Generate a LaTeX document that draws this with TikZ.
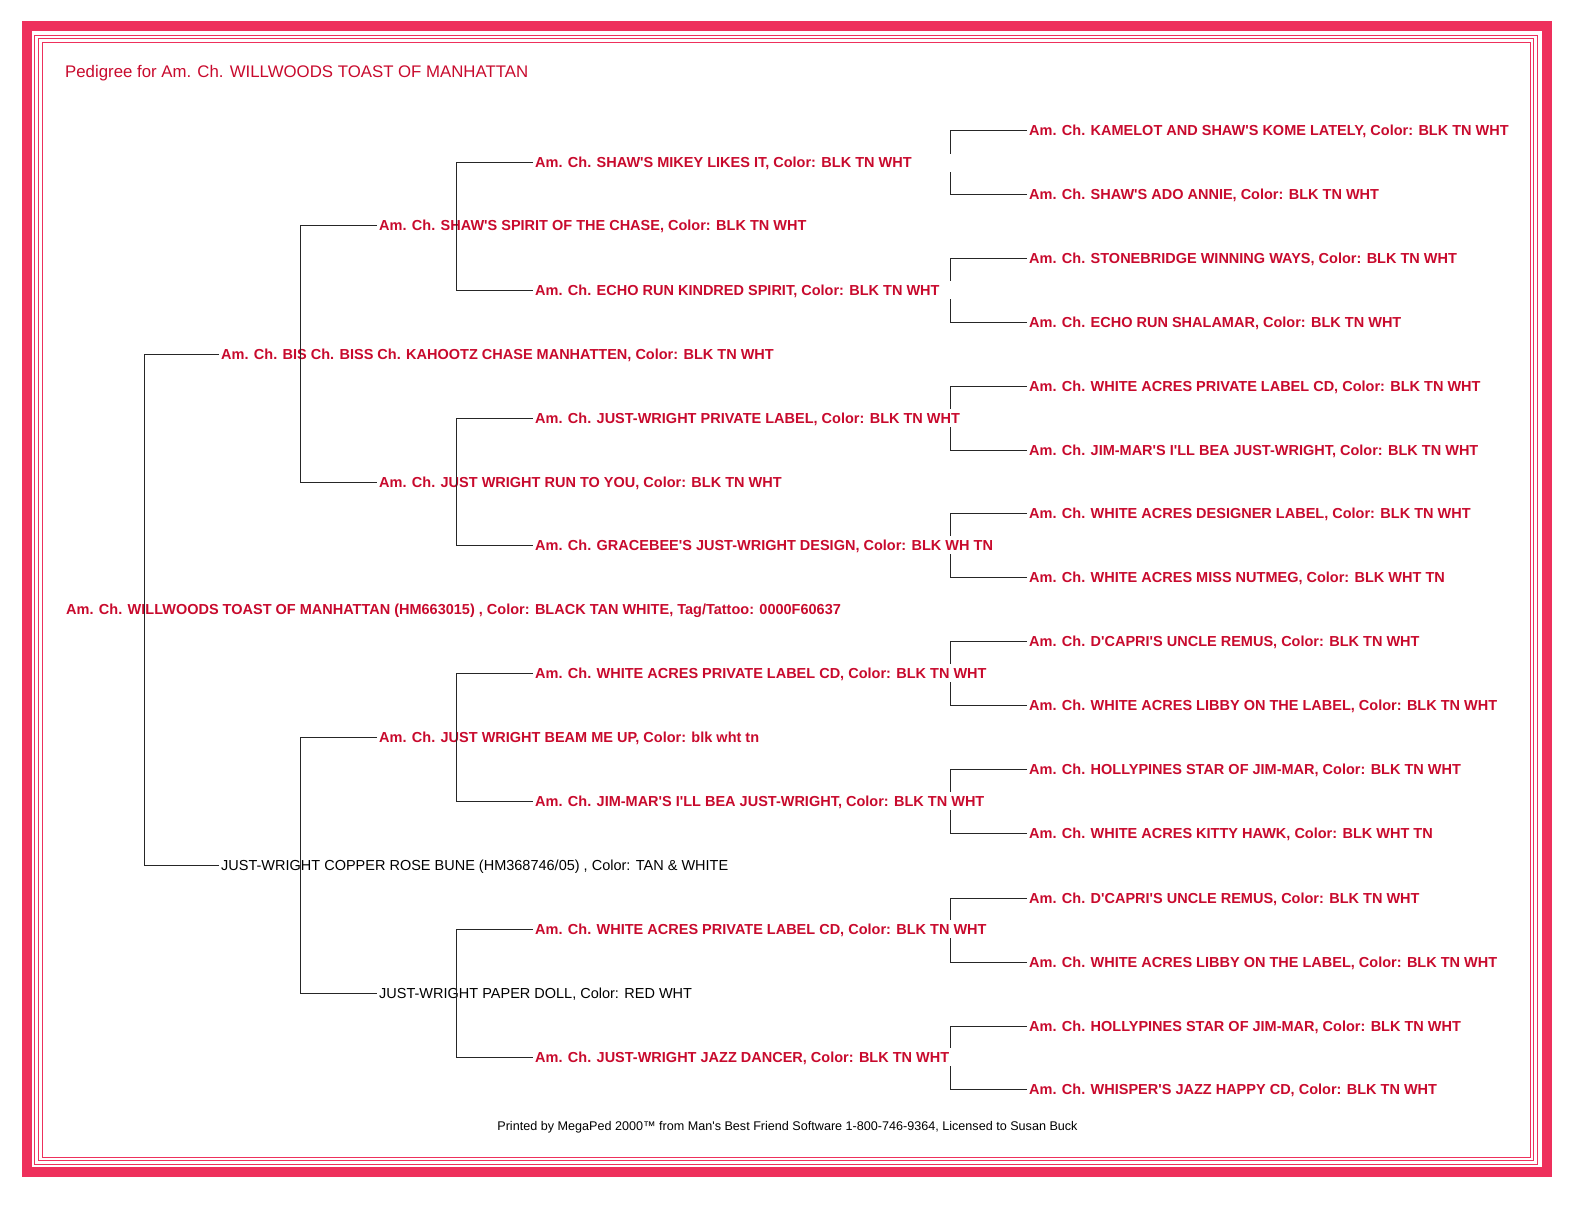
\documentclass[tikz,border=0pt]{standalone}
\usepackage{fontspec}
\setmainfont{Liberation Sans}[Ligatures=TeXOff]
\usetikzlibrary{calc}
\definecolor{band}{RGB}{238,48,92}
\definecolor{txtred}{RGB}{200,10,45}
\newcommand\pedlink[4]{% parent, top child, bottom child, vertical coordinate
  \draw[link] (#2.west) -- (#2.west -| #4) -- (#3.west -| #4) -- (#3.west);}
\newcommand\pedgap[4]{%
  \draw[link] (#2.west) -- (#2.west -| #4) -- ($(#1.west -| #4)+(0,-9)$);
  \draw[link] (#3.west) -- (#3.west -| #4) -- ($(#1.west -| #4)+(0,9)$);}
\begin{document}
\begin{tikzpicture}[x=1pt,y=-1pt,
  dog/.style={anchor=west,inner xsep=2pt,inner ysep=0pt,text height=10pt,text depth=0pt,text=txtred,font=\fontsize{14.5}{16}\selectfont\bfseries},
  plaindog/.style={anchor=west,inner xsep=2pt,inner ysep=0pt,text height=10pt,text depth=0pt,text=black,font=\fontsize{14.5}{16}\selectfont},
  link/.style={draw=black!85,line width=1pt},
  frameline/.style={draw=band,line width=0.9pt}]
\useasboundingbox (0,0) rectangle (1570,1206);
% border
\draw[band,line width=10pt] (26.5,26) rectangle (1547,1172);
\draw[frameline] (34,35) rectangle (1537,1164);
\draw[frameline] (38,38.5) rectangle (1533.5,1160.5);
\draw[frameline] (42,42) rectangle (1530,1157);
% title and footer
\node[anchor=west,inner sep=0pt,text height=11pt,text depth=0pt,text=txtred,font=\fontsize{16.8}{18}\selectfont] (title) at (65,72) {Pedigree for Am. Ch. WILLWOODS TOAST OF MANHATTAN};
\node[anchor=center,inner sep=0pt,text height=8pt,text depth=0pt,font=\fontsize{12.6}{14}\selectfont] (footer) at (787.5,1126) {Printed by MegaPed 2000™ from Man's Best Friend Software 1-800-746-9364, Licensed to Susan Buck};
% vertical positions
\coordinate (v1) at (144,0);
\coordinate (v2) at (300,0);
\coordinate (v3) at (456.5,0);
\coordinate (v4) at (950.5,0);
% root
\node[dog] (root) at (64,609) {Am. Ch. WILLWOODS TOAST OF MANHATTAN (HM663015) , Color: BLACK TAN WHITE, Tag/Tattoo: 0000F60637};
% generation 1
\node[dog] (s) at (219,354) {Am. Ch. BIS Ch. BISS Ch. KAHOOTZ CHASE MANHATTEN, Color: BLK TN WHT};
\node[plaindog] (d) at (219,865) {JUST-WRIGHT COPPER ROSE BUNE (HM368746/05) , Color: TAN \& WHITE};
% generation 2
\node[dog] (ss) at (377,226) {Am. Ch. SHAW'S SPIRIT OF THE CHASE, Color: BLK TN WHT};
\node[dog] (sd) at (377,482) {Am. Ch. JUST WRIGHT RUN TO YOU, Color: BLK TN WHT};
\node[dog] (ds) at (377,737) {Am. Ch. JUST WRIGHT BEAM ME UP, Color: blk wht tn};
\node[plaindog] (dd) at (377,993) {JUST-WRIGHT PAPER DOLL, Color: RED WHT};
% generation 3
\node[dog] (sss) at (533,163) {Am. Ch. SHAW'S MIKEY LIKES IT, Color: BLK TN WHT};
\node[dog] (ssd) at (533,290) {Am. Ch. ECHO RUN KINDRED SPIRIT, Color: BLK TN WHT};
\node[dog] (sds) at (533,418) {Am. Ch. JUST-WRIGHT PRIVATE LABEL, Color: BLK TN WHT};
\node[dog] (sdd) at (533,545) {Am. Ch. GRACEBEE'S JUST-WRIGHT DESIGN, Color: BLK WH TN};
\node[dog] (dss) at (533,673) {Am. Ch. WHITE ACRES PRIVATE LABEL CD, Color: BLK TN WHT};
\node[dog] (dsd) at (533,801) {Am. Ch. JIM-MAR'S I'LL BEA JUST-WRIGHT, Color: BLK TN WHT};
\node[dog] (dds) at (533,929) {Am. Ch. WHITE ACRES PRIVATE LABEL CD, Color: BLK TN WHT};
\node[dog] (ddd) at (533,1057) {Am. Ch. JUST-WRIGHT JAZZ DANCER, Color: BLK TN WHT};
% generation 4
\node[dog] (ssss) at (1027,131) {Am. Ch. KAMELOT AND SHAW'S KOME LATELY, Color: BLK TN WHT};
\node[dog] (sssd) at (1027,195) {Am. Ch. SHAW'S ADO ANNIE, Color: BLK TN WHT};
\node[dog] (ssds) at (1027,258) {Am. Ch. STONEBRIDGE WINNING WAYS, Color: BLK TN WHT};
\node[dog] (ssdd) at (1027,322) {Am. Ch. ECHO RUN SHALAMAR, Color: BLK TN WHT};
\node[dog] (sdss) at (1027,386) {Am. Ch. WHITE ACRES PRIVATE LABEL CD, Color: BLK TN WHT};
\node[dog] (sdsd) at (1027,450) {Am. Ch. JIM-MAR'S I'LL BEA JUST-WRIGHT, Color: BLK TN WHT};
\node[dog] (sdds) at (1027,513) {Am. Ch. WHITE ACRES DESIGNER LABEL, Color: BLK TN WHT};
\node[dog] (sddd) at (1027,577) {Am. Ch. WHITE ACRES MISS NUTMEG, Color: BLK WHT TN};
\node[dog] (dsss) at (1027,641) {Am. Ch. D'CAPRI'S UNCLE REMUS, Color: BLK TN WHT};
\node[dog] (dssd) at (1027,705) {Am. Ch. WHITE ACRES LIBBY ON THE LABEL, Color: BLK TN WHT};
\node[dog] (dsds) at (1027,769) {Am. Ch. HOLLYPINES STAR OF JIM-MAR, Color: BLK TN WHT};
\node[dog] (dsdd) at (1027,833) {Am. Ch. WHITE ACRES KITTY HAWK, Color: BLK WHT TN};
\node[dog] (ddss) at (1027,898) {Am. Ch. D'CAPRI'S UNCLE REMUS, Color: BLK TN WHT};
\node[dog] (ddsd) at (1027,962) {Am. Ch. WHITE ACRES LIBBY ON THE LABEL, Color: BLK TN WHT};
\node[dog] (ddds) at (1027,1026) {Am. Ch. HOLLYPINES STAR OF JIM-MAR, Color: BLK TN WHT};
\node[dog] (dddd) at (1027,1089) {Am. Ch. WHISPER'S JAZZ HAPPY CD, Color: BLK TN WHT};
% connectors
\pedlink{root}{s}{d}{v1}
\pedlink{s}{ss}{sd}{v2}
\pedlink{d}{ds}{dd}{v2}
\pedlink{ss}{sss}{ssd}{v3}
\pedlink{sd}{sds}{sdd}{v3}
\pedlink{ds}{dss}{dsd}{v3}
\pedlink{dd}{dds}{ddd}{v3}
\pedgap{sss}{ssss}{sssd}{v4}
\pedgap{ssd}{ssds}{ssdd}{v4}
\pedgap{sds}{sdss}{sdsd}{v4}
\pedgap{sdd}{sdds}{sddd}{v4}
\pedgap{dss}{dsss}{dssd}{v4}
\pedgap{dsd}{dsds}{dsdd}{v4}
\pedgap{dds}{ddss}{ddsd}{v4}
\pedgap{ddd}{ddds}{dddd}{v4}
\end{tikzpicture}
\end{document}
